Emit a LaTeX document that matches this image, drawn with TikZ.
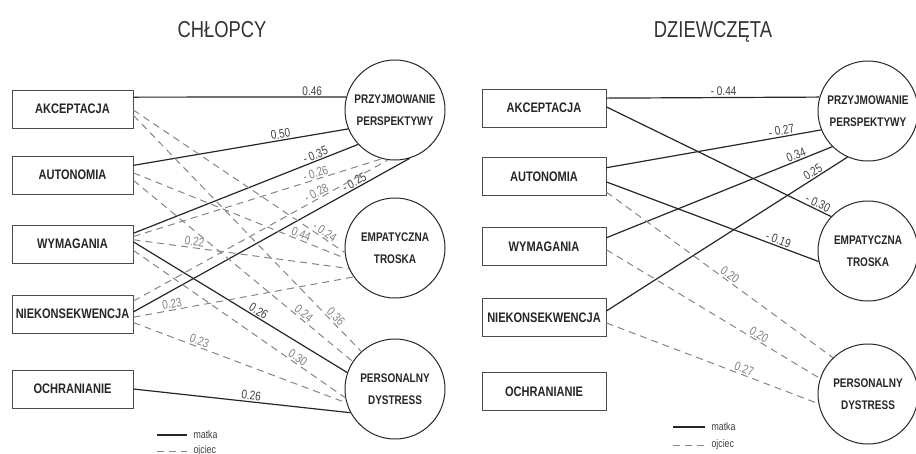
\documentclass[tikz,border=0pt]{standalone}
\usepackage{fontspec}
\setmainfont{Liberation Sans}[FakeStretch=0.8]
\usetikzlibrary{positioning}

\begin{document}
\begin{tikzpicture}[x=1pt, y=-1pt,
    box/.style={draw=black!70, line width=0.9pt, minimum width=121pt, minimum height=38pt, inner sep=0pt,
        font=\bfseries\fontsize{13.8}{16}\selectfont, text=black!85},
    wynik/.style={circle, draw=black!85, line width=1pt, minimum size=100pt, inner sep=0pt, align=center,
        font=\bfseries\fontsize{12.5}{22}\selectfont, text=black!85},
    matka/.style={draw=black!85, line width=1.2pt},
    ojciec/.style={draw=black!48, line width=1pt, dash pattern=on 7pt off 5pt},
    wm/.style={sloped, above, inner sep=1.2pt, font=\fontsize{12.5}{13}\selectfont, text=black!75},
    wo/.style={sloped, above, inner sep=1.2pt, font=\fontsize{12.5}{13}\selectfont, text=black!50},
    tytul/.style={anchor=base, font=\fontsize{23}{26}\selectfont, text=black!80},
    leg/.style={anchor=west, font=\fontsize{11}{12}\selectfont, text=black!75}]
    \useasboundingbox (0,0) rectangle (916,453);

    % Titles
    \node[tytul] (tytL) at (222,37) {CHŁOPCY};
    \node[tytul] (tytR) at (713,37) {DZIEWCZĘTA};

    % Boys: predictors and outcomes
    \node[box] (akcL) at (72.5,109) {AKCEPTACJA};
    \node[box] (autL) at (72.5,175) {AUTONOMIA};
    \node[box] (wymL) at (72.5,244) {WYMAGANIA};
    \node[box] (nieL) at (72.5,314) {NIEKONSEKWENCJA};
    \node[box] (ochL) at (72.5,389) {OCHRANIANIE};
    \node[wynik] (przL) at (395,110) {PRZYJMOWANIE\\PERSPEKTYWY};
    \node[wynik] (empL) at (395,248) {EMPATYCZNA\\TROSKA};
    \node[wynik] (perL) at (395,389) {PERSONALNY\\DYSTRESS};

    % Boys: mother
    \draw[matka] (akcL.11) -- node[wm, pos=0.84] {0.46} (przL.165);
    \draw[matka] (autL.9) -- node[wm, pos=0.69] {0.50} (przL.202);
    \draw[matka] (wymL.10) -- node[wm, pos=0.82] {- 0.35} (przL.223);
    \draw[matka] (nieL.2) -- node[wm, pos=0.81] {- 0.25} (przL.287);
    \draw[matka] (wymL.2) -- node[wm, pos=0.57] {0.26} (perL.161);
    \draw[matka] (ochL.0) -- node[wm, pos=0.54] {0.26} (perL.208);

    % Boys: father
    \draw[ojciec] (akcL.-1) -- node[wo, pos=0.89] {- 0.24} (empL.185);
    \draw[ojciec] (akcL.-6) -- node[wo, pos=0.87] {0.36} (perL.132);
    \draw[ojciec] (autL.2) -- node[wo, pos=0.78] {0.44} (empL.192);
    \draw[ojciec] (autL.-5) -- node[wo, pos=0.76] {0.24} (perL.147);
    \draw[ojciec] (wymL.7) -- node[wo, pos=0.74] {- 0.26} (przL.255);
    \draw[ojciec] (wymL.4) -- node[wo, pos=0.28] {0.22} (empL.204);
    \draw[ojciec] (wymL.-6) -- node[wo, pos=0.76] {0.30} (perL.190);
    \draw[ojciec] (nieL.12) -- node[wo, pos=0.73] {- 0.28} (przL.262);
    \draw[ojciec] (nieL.-3) -- node[wo, pos=0.18] {0.23} (empL.215);
    \draw[ojciec] (nieL.-8.5) -- node[wo, pos=0.30] {0.23} (perL.196);

    % Girls: predictors and outcomes
    \node[box, minimum width=124pt] (akcR) at (544,108) {AKCEPTACJA};
    \node[box, minimum width=124pt] (autR) at (544,176.5) {AUTONOMIA};
    \node[box, minimum width=124pt] (wymR) at (544,246.5) {WYMAGANIA};
    \node[box, minimum width=124pt] (nieR) at (544,317.5) {NIEKONSEKWENCJA};
    \node[box, minimum width=124pt] (ochR) at (544,391.5) {OCHRANIANIE};
    \node[wynik] (przR) at (868,111) {PRZYJMOWANIE\\PERSPEKTYWY};
    \node[wynik] (empR) at (868,251) {EMPATYCZNA\\TROSKA};
    \node[wynik] (perR) at (868,394) {PERSONALNY\\DYSTRESS};

    % Girls: mother
    \draw[matka] (akcR.9) -- node[wm, pos=0.55] {- 0.44} (przR.164.6);
    \draw[matka] (akcR.1) -- node[wm, pos=0.93] {- 0.30} (empR.137.5);
    \draw[matka] (autR.8) -- node[wm, pos=0.82] {- 0.27} (przR.202);
    \draw[matka] (autR.-5) -- node[wm, pos=0.80] {- 0.19} (empR.192);
    \draw[matka] (wymR.8) -- node[wm, pos=0.85] {0.34} (przR.225);
    \draw[matka] (nieR.6) -- node[wm, pos=0.87] {0.25} (przR.246.5);

    % Girls: father
    \draw[ojciec] (autR.-14) -- node[wo, pos=0.53] {0.20} (perR.134);
    \draw[ojciec] (wymR.-3) -- node[wo, pos=0.70] {0.20} (perR.162);
    \draw[ojciec] (nieR.-5) -- node[wo, pos=0.64] {0.27} (perR.191);

    % Legends
    \coordinate (lgL1) at (157,435);
    \coordinate (lgL2) at (157,451);
    \node[leg] (lgMatkaL) at (190,435) {matka};
    \node[leg] (lgOjciecL) at (190,451) {ojciec};
    \draw[matka] (lgL1) -- ([xshift=-3pt]lgMatkaL.west);
    \draw[ojciec] (lgL2) -- ([xshift=-3pt]lgOjciecL.west);
    \coordinate (lgR1) at (673,427);
    \coordinate (lgR2) at (673,445);
    \node[leg] (lgMatkaR) at (708,427) {matka};
    \node[leg] (lgOjciecR) at (708,445) {ojciec};
    \draw[matka] (lgR1) -- ([xshift=-3pt]lgMatkaR.west);
    \draw[ojciec] (lgR2) -- ([xshift=-3pt]lgOjciecR.west);
\end{tikzpicture}
\end{document}
